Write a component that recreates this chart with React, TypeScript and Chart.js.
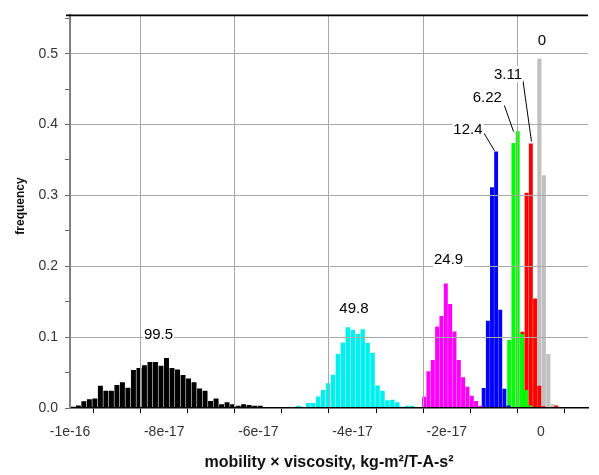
import React, { useEffect, useRef } from "react";
import { Chart, registerables } from "chart.js";

Chart.register(...registerables);

// ---------- axes ----------
const X_MIN = -1e-16;
const X_MAX = 1e-17;
const Y_MIN = 0;
const Y_MAX = 0.554;
const X_TICK_VALUES = [-1e-16, -9e-17, -8e-17, -7e-17, -6e-17, -5e-17, -4e-17, -3e-17, -2e-17, -1e-17, 0, 1e-17];
const X_TICK_LABELS = ["-1e-16", "", "-8e-17", "", "-6e-17", "", "-4e-17", "", "-2e-17", "", "0", ""];
const Y_TICK_VALUES = [0, 0.05, 0.1, 0.15, 0.2, 0.25, 0.3, 0.35, 0.4, 0.45, 0.5, 0.55];
const Y_TICK_LABELS = ["0.0", "", "0.1", "", "0.2", "", "0.3", "", "0.4", "", "0.5", ""];
const X_TITLE = "mobility × viscosity, kg-m²/T-A-s²";
const Y_TITLE = "frequency";

// ---------- series (histograms) ----------
const SERIES_NAMES = ["99.5", "49.8", "24.9", "12.4", "6.22", "3.11", "0"];
const SERIES_COLORS = ["#000000", "#00f0f0", "#ff00ff", "#0000ff", "#00ff00", "#ff0000", "#c0c0c0"];
const BIN_START = [-9.94e-17, -5.15e-17, -2.48e-17, -1.215e-17, -6.73e-18, -3.94e-18, -0.33e-18];
const BIN_WIDTH = [1.17e-18, 1.05e-18, 0.92e-18, 0.88e-18, 0.9e-18, 0.9e-18, 0.95e-18];

const freq995 = [0.0014, 0.003, 0.009, 0.012, 0.013, 0.031, 0.024, 0.024, 0.032, 0.036, 0.028, 0.053, 0.056, 0.06, 0.0645, 0.0645, 0.059, 0.07, 0.056, 0.054, 0.046, 0.041, 0.036, 0.027, 0.024, 0.0094, 0.013, 0.0047, 0.0075, 0.0047, 0.0028, 0.0047, 0.0037, 0.0028, 0.0028];
const freq498 = [0.0028, 0.0014, 0.0065, 0.0065, 0.0159, 0.0248, 0.0346, 0.0463, 0.0757, 0.092, 0.1136, 0.11, 0.1038, 0.1108, 0.0916, 0.0776, 0.0313, 0.0238, 0.0103, 0.0112, 0.0075, 0.0014, 0.0028, 0.0028];
const freq249 = [0.0154, 0.0514, 0.0673, 0.1146, 0.1295, 0.1753, 0.1463, 0.1075, 0.0673, 0.043, 0.0295, 0.0168, 0.0093, 0.0028];
const freq124 = [0.0276, 0.1225, 0.311, 0.3614, 0.138, 0.0267, 0.003];
const freq622 = [0.0954, 0.3735, 0.39, 0.104, 0.025, 0.003];
const freq311 = [0.107, 0.3034, 0.3726, 0.154, 0.031, 0.002, 0, 0, 0.003];
const freq0 = [0.4928, 0.328, 0.0757, 0.005];
const SERIES_FREQ = [freq995, freq498, freq249, freq124, freq622, freq311, freq0];

// ---------- peak labels (data coordinates) ----------
const PEAK_LABEL_X = [-8.12e-17, -3.97e-17, -1.96e-17, -1.55e-17, -1.14e-17, -7.0e-18, 0.2e-18];
const PEAK_LABEL_Y = [0.104, 0.141, 0.21, 0.394, 0.439, 0.471, 0.519];
const LEADER_SERIES = [3, 4, 5];
const LEADER_FROM_X = [-1.206e-17, -7.77e-18, -3.81e-18];
const LEADER_FROM_Y = [0.3875, 0.427, 0.462];
const LEADER_TO_X = [-9.85e-18, -5.81e-18, -2.0e-18];
const LEADER_TO_Y = [0.363, 0.39, 0.376];

const FONT = '"Liberation Sans", Arial, sans-serif';
const GRID_COLOR = "#a8a8a8";
const BAR_FILL_RATIO = 0.78;

const overlayPlugin = {
  id: "overlay",
  afterDraw(chart: any) {
    const { ctx, chartArea, scales } = chart;
    const x = scales.x;
    const y = scales.y;
    ctx.save();
    // top frame line
    ctx.strokeStyle = "#000";
    ctx.lineWidth = 1.6;
    ctx.beginPath();
    ctx.moveTo(chartArea.left - 4, chartArea.top);
    ctx.lineTo(chartArea.right, chartArea.top);
    ctx.stroke();

    // leader lines
    ctx.lineWidth = 1;
    ctx.strokeStyle = "#000";
    for (let i = 0; i < LEADER_SERIES.length; i++) {
      ctx.beginPath();
      ctx.moveTo(x.getPixelForValue(LEADER_FROM_X[i]), y.getPixelForValue(LEADER_FROM_Y[i]));
      ctx.lineTo(x.getPixelForValue(LEADER_TO_X[i]), y.getPixelForValue(LEADER_TO_Y[i]));
      ctx.stroke();
    }

    // peak labels
    ctx.font = `15px ${FONT}`;
    ctx.textAlign = "center";
    ctx.textBaseline = "middle";
    for (let i = 0; i < SERIES_NAMES.length; i++) {
      const px = x.getPixelForValue(PEAK_LABEL_X[i]);
      const py = y.getPixelForValue(PEAK_LABEL_Y[i]);
      const w = ctx.measureText(SERIES_NAMES[i]).width;
      ctx.fillStyle = "#fff";
      ctx.fillRect(px - w / 2 - 1, py - 8, w + 2, 16);
      ctx.fillStyle = "#000";
      ctx.fillText(SERIES_NAMES[i], px, py + 1);
    }

    // axis titles
    ctx.fillStyle = "#111";
    ctx.font = `bold 16px ${FONT}`;
    ctx.fillText(X_TITLE, (chartArea.left + chartArea.right) / 2, 463);
    ctx.font = `bold 12px ${FONT}`;
    ctx.translate(21, 206);
    ctx.rotate(-Math.PI / 2);
    ctx.fillText(Y_TITLE, 0, 0);
    ctx.restore();
  },
};

export default function App() {
  const canvasRef = useRef<HTMLCanvasElement | null>(null);

  useEffect(() => {
    const canvas = canvasRef.current;
    if (!canvas) return;
    Chart.defaults.font.family = FONT;

    const datasets = SERIES_NAMES.map((name, s) => ({
      label: name,
      data: SERIES_FREQ[s].map((v, i) => ({ x: BIN_START[s] + i * BIN_WIDTH[s], y: v })),
      backgroundColor: SERIES_COLORS[s],
      borderWidth: 0,
      grouped: false,
      barThickness: 3,
    }));

    const chart = new Chart(canvas, {
      type: "bar",
      data: { datasets },
      plugins: [overlayPlugin],
      options: {
        animation: false,
        responsive: false,
        devicePixelRatio: 1,
        layout: { padding: { top: 13, right: 0, left: 0, bottom: 0 } },
        plugins: { legend: { display: false }, tooltip: { enabled: false } },
        scales: {
          x: {
            type: "linear",
            min: X_MIN,
            max: X_MAX,
            offset: false,
            afterFit: (scale: any) => {
              scale.height = 67;
            },
            afterBuildTicks: (scale: any) => {
              scale.ticks = X_TICK_VALUES.map((v) => ({ value: v }));
            },
            border: { display: true, color: "#000", width: 1.6, z: 1 },
            grid: {
              z: 1,
              drawTicks: true,
              tickLength: 5,
              tickColor: "#000",
              tickWidth: 1,
              lineWidth: 1,
              borderDash: [1, 3],
              color: (c: any) => (c.index > 0 && X_TICK_LABELS[c.index] ? GRID_COLOR : "rgba(0,0,0,0)"),
            },
            ticks: {
              autoSkip: false,
              maxRotation: 0,
              padding: 11,
              color: "#333",
              font: { size: 14, family: FONT },
              callback: (_v: any, i: number) => X_TICK_LABELS[i],
            },
          },
          y: {
            type: "linear",
            min: Y_MIN,
            max: Y_MAX,
            afterFit: (scale: any) => {
              scale.width = 70;
            },
            afterBuildTicks: (scale: any) => {
              scale.ticks = Y_TICK_VALUES.map((v) => ({ value: v }));
            },
            border: { display: true, color: "#808080", width: 2, z: 1 },
            grid: {
              z: 1,
              drawTicks: true,
              tickLength: 5,
              tickColor: "#666",
              tickWidth: 1,
              lineWidth: 1,
              borderDash: [1, 3],
              color: (c: any) => (c.index > 0 && Y_TICK_LABELS[c.index] ? GRID_COLOR : "rgba(0,0,0,0)"),
            },
            ticks: {
              autoSkip: false,
              padding: 7,
              color: "#333",
              font: { size: 14, family: FONT },
              callback: (_v: any, i: number) => Y_TICK_LABELS[i],
            },
          },
        },
      },
    });

    // bar widths follow each histogram's bin width in pixels
    const xs: any = chart.scales.x;
    chart.data.datasets.forEach((ds: any, s: number) => {
      const w = Math.abs(xs.getPixelForValue(BIN_WIDTH[s]) - xs.getPixelForValue(0));
      ds.barThickness = w * BAR_FILL_RATIO;
    });
    chart.update("none");

    return () => chart.destroy();
  }, []);

  return (
    <canvas
      ref={canvasRef}
      width={599}
      height={475}
      style={{ position: "absolute", left: 0, top: 0, width: 599, height: 475 }}
    />
  );
}
